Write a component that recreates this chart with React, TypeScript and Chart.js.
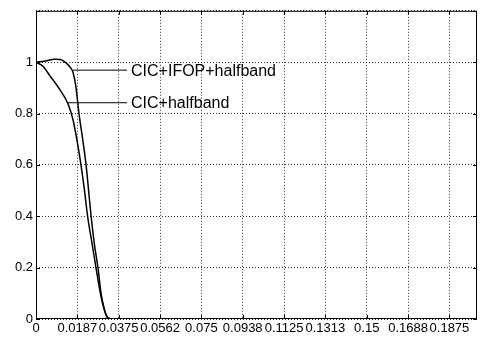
import React, { useEffect, useRef } from "react";
import { Chart, registerables } from "chart.js";

Chart.register(...registerables);

// CIC+halfband response
const freqLow = [0, 0.003, 0.0064, 0.0109, 0.0145, 0.0168, 0.0185, 0.0204, 0.022, 0.0234, 0.0255, 0.0272, 0.029, 0.0305, 0.0318, 0.033, 0.0345, 0.05, 0.1, 0.15, 0.2];
const magLow = [1.0, 0.985, 0.946, 0.892, 0.838, 0.775, 0.7, 0.6, 0.5, 0.4, 0.29, 0.2, 0.11, 0.05, 0.015, 0.002, 0, 0, 0, 0, 0];

// CIC+IFOP+halfband response
const freqIfop = [0, 0.004, 0.0085, 0.011, 0.0135, 0.0155, 0.0168, 0.018, 0.0195, 0.021, 0.0227, 0.025, 0.0265, 0.0281, 0.0295, 0.0308, 0.032, 0.0335, 0.035, 0.05, 0.1, 0.15, 0.2];
const magIfop = [1.0, 1.004, 1.011, 1.01, 0.998, 0.98, 0.96, 0.91, 0.8, 0.71, 0.6, 0.4, 0.29, 0.2, 0.1, 0.045, 0.012, 0.001, 0, 0, 0, 0, 0];

const xTickValues = [0, 0.01875, 0.0375, 0.05625, 0.075, 0.09375, 0.1125, 0.13125, 0.15, 0.16875, 0.1875];
const xTickLabels = ["0", "0.0187", "0.0375", "0.0562", "0.075", "0.0938", "0.1125", "0.1313", "0.15", "0.1688", "0.1875"];
const yTickValues = [0, 0.2, 0.4, 0.6, 0.8, 1.0, 1.2];
const yTickLabels = ["0", "0.2", "0.4", "0.6", "0.8", "1", ""];

// annotation: label, curve-anchor x, anchor y, line end x, text x
const annLabels = ["CIC+IFOP+halfband", "CIC+halfband"];
const annAnchorX = [0.0168, 0.0145];
const annAnchorY = [0.969, 0.842];
const annLineEndX = [0.0413, 0.0413];
const annTextX = [0.0431, 0.0431];

const FONT = "'Liberation Sans', Arial, sans-serif";

const framePlugin = {
  id: "frame",
  afterDatasetsDraw(chart: any) {
    const { ctx, chartArea: a, scales } = chart;
    const xs = scales.x;
    const ys = scales.y;
    ctx.save();
    ctx.strokeStyle = "#000";
    ctx.lineWidth = 1;
    ctx.strokeRect(a.left + 0.5, a.top + 0.5, a.right - a.left - 1, a.bottom - a.top - 1);
    // inward tick marks
    ctx.beginPath();
    xTickValues.forEach((v) => {
      const px = Math.round(xs.getPixelForValue(v)) + 0.5;
      ctx.moveTo(px, a.bottom);
      ctx.lineTo(px, a.bottom - 4);
      ctx.moveTo(px, a.top);
      ctx.lineTo(px, a.top + 4);
    });
    yTickValues.forEach((v) => {
      const py = Math.round(ys.getPixelForValue(v)) + 0.5;
      ctx.moveTo(a.left, py);
      ctx.lineTo(a.left + 4, py);
      ctx.moveTo(a.right, py);
      ctx.lineTo(a.right - 4, py);
    });
    ctx.stroke();
    // annotations
    ctx.font = `16px ${FONT}`;
    ctx.fillStyle = "#000";
    ctx.textBaseline = "middle";
    ctx.textAlign = "left";
    annLabels.forEach((lab, i) => {
      const y = ys.getPixelForValue(annAnchorY[i]);
      ctx.beginPath();
      ctx.moveTo(xs.getPixelForValue(annAnchorX[i]), y);
      ctx.lineTo(xs.getPixelForValue(annLineEndX[i]), y);
      ctx.stroke();
      ctx.fillText(lab, xs.getPixelForValue(annTextX[i]), y + 1);
    });
    ctx.restore();
  },
};

export default function App() {
  const ref = useRef<HTMLCanvasElement>(null);
  useEffect(() => {
    if (!ref.current) return;
    const chart = new Chart(ref.current, {
      type: "line",
      data: {
        datasets: [
          {
            label: "CIC+halfband",
            data: freqLow.map((f, i) => ({ x: f, y: magLow[i] })),
            borderColor: "#000",
            borderWidth: 1.5,
            pointRadius: 0,
            cubicInterpolationMode: "monotone",
            fill: false,
          },
          {
            label: "CIC+IFOP+halfband",
            data: freqIfop.map((f, i) => ({ x: f, y: magIfop[i] })),
            borderColor: "#000",
            borderWidth: 1.5,
            pointRadius: 0,
            cubicInterpolationMode: "monotone",
            fill: false,
          },
        ],
      },
      options: {
        animation: false,
        responsive: false,
        maintainAspectRatio: false,
        layout: { padding: { left: 0, top: 8, right: 5, bottom: 0 } },
        plugins: { legend: { display: false }, tooltip: { enabled: false } },
        scales: {
          x: {
            type: "linear",
            min: 0,
            max: 0.2,
            afterBuildTicks: (s: any) => {
              s.ticks = xTickValues.map((v) => ({ value: v }));
            },
            afterFit: (s: any) => {
              s.height = 20;
            },
            ticks: {
              autoSkip: false,
              maxRotation: 0,
              minRotation: 0,
              padding: 2,
              color: "#000",
              font: { family: FONT, size: 13 },
              callback: (_v: any, i: number) => xTickLabels[i],
            },
            grid: {
              color: "#333",
              lineWidth: 1,
              drawTicks: false,
              tickBorderDash: [1, 2],
            },
            border: { display: false, dash: [1, 2] },
          },
          y: {
            min: 0,
            max: 1.2,
            afterBuildTicks: (s: any) => {
              s.ticks = yTickValues.map((v) => ({ value: v }));
            },
            afterFit: (s: any) => {
              s.width = 36;
            },
            ticks: {
              padding: 3,
              color: "#000",
              font: { family: FONT, size: 13 },
              callback: (_v: any, i: number) => yTickLabels[i],
            },
            grid: {
              color: "#333",
              lineWidth: 1,
              drawTicks: false,
            },
            border: { display: false, dash: [1, 2] },
          },
        },
      },
      plugins: [framePlugin],
    });
    return () => chart.destroy();
  }, []);
  return (
    <div style={{ position: "fixed", left: 0, top: 0, width: 482, height: 339, background: "#fff" }}>
      <canvas ref={ref} width={482} height={339} style={{ width: 482, height: 339 }} />
    </div>
  );
}
